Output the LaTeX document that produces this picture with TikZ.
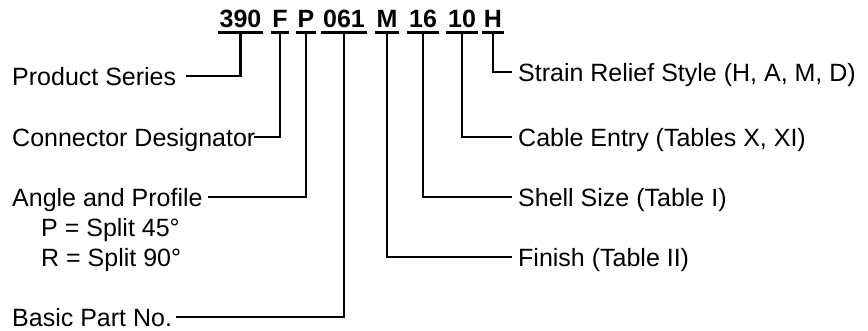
\documentclass[tikz,border=0pt]{standalone}
\usepackage{fontspec}
\setmainfont{Liberation Sans}
\begin{document}
\begin{tikzpicture}[x=1pt,y=-1pt,
  lbl/.style={anchor=west,inner sep=0pt,text height=18pt,text depth=0pt,font=\fontsize{25}{30}\selectfont},
  tok/.style={anchor=base,inner xsep=1.5pt,inner ysep=0pt,text depth=0pt,font=\fontsize{25}{30}\selectfont\bfseries},
  conn/.style={line width=2.8pt,line join=miter},
  uline/.style={line width=2.8pt}]
\useasboundingbox (0,0) rectangle (868,330);
% title tokens
\node[tok] (t390) at (240.5,27) {390};
\node[tok] (tF) at (280,27) {F};
\node[tok] (tP) at (306,27) {P};
\node[tok] (t061) at (344,27) {061};
\node[tok] (tM) at (387,27) {M};
\node[tok] (t16) at (423,27) {16};
\node[tok] (t10) at (462,27) {10};
\node[tok] (tH) at (493,27) {H};
\foreach \t in {t390,tF,tP,t061,tM,t16,t10,tH}{
  \draw[uline] ([yshift=-5pt]\t.south west) -- ([yshift=-5pt]\t.south east);
  \coordinate (b\t) at ([yshift=-5pt]\t.south);
}
% left labels
\node[lbl] (ps) at (12,76) {Product Series};
\node[lbl] (cd) at (12,137) {Connector Designator};
\node[lbl] (ap) at (12,197) {Angle and Profile};
\node[lbl] (p45) at (41,227) {P = Split 45°};
\node[lbl] (r90) at (41,257) {R = Split 90°};
\node[lbl] (bp) at (12,317) {Basic Part No.};
% right labels
\node[lbl] (sr) at (518,72) {Strain Relief Style (H, A, M, D)};
\node[lbl] (ce) at (518,137) {Cable Entry (Tables X, XI)};
\node[lbl] (ss) at (518,197) {Shell Size (Table I)};
\node[lbl] (fi) at (518,257) {Finish (Table II)};
% connectors
\draw[conn] ([xshift=10pt]ps.east) -| (bt390);
\draw[conn] ([xshift=-2pt]cd.east) -| (btF);
\draw[conn] ([xshift=5pt]ap.east) -| (btP);
\draw[conn] ([xshift=4pt]bp.east) -| (bt061);
\draw[conn] (btM) |- ([xshift=-6pt]fi.west);
\draw[conn] (bt16) |- ([xshift=-6pt]ss.west);
\draw[conn] (bt10) |- ([xshift=-6pt]ce.west);
\draw[conn] (btH) |- ([xshift=-6pt]sr.west);
\end{tikzpicture}
\end{document}
